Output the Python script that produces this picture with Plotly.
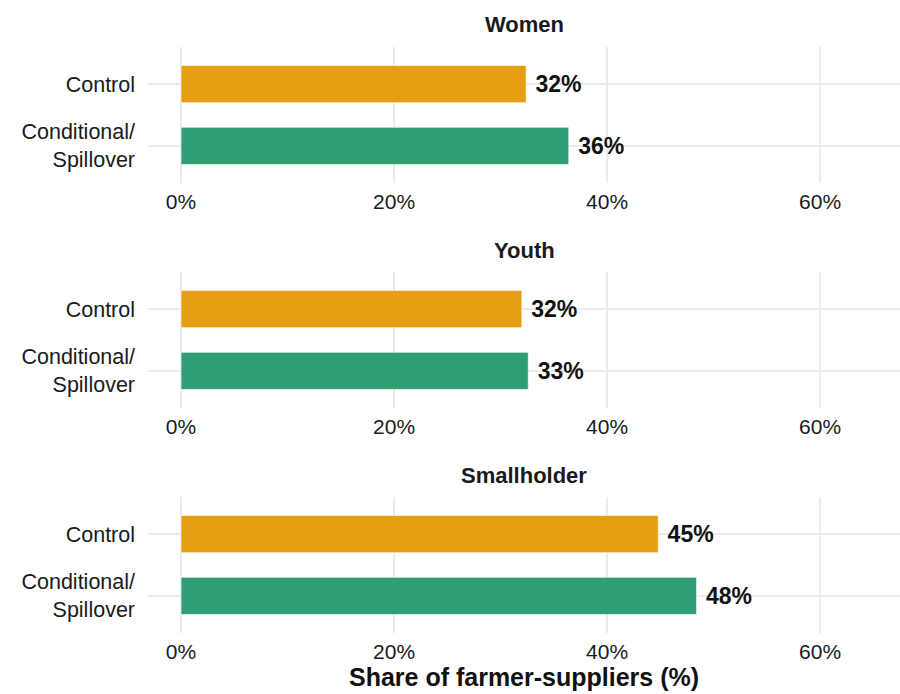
import plotly.graph_objects as go

# Share of farmer-suppliers by group and treatment arm (%)
groups = ["Women", "Youth", "Smallholder"]
arms = ["Control", "Conditional/<br>Spillover"]
control_vals = [32.4, 32.0, 44.8]
conditional_vals = [36.4, 32.6, 48.4]
x_ticks = [0, 20, 40, 60]
x_tick_labels = ["0%", "20%", "40%", "60%"]

arm_colors = ["#E69F13", "#2F9E73"]
font_family = "Liberation Sans, Arial, sans-serif"

W, H = 900, 694
panel_px = [(47, 183), (272, 408), (497, 633)]  # top/bottom of each plot area
x_left_px = 148

fig = go.Figure()
for i, g in enumerate(groups):
    vals = [control_vals[i], conditional_vals[i]]
    sfx = "" if i == 0 else str(i + 1)
    fig.add_trace(go.Bar(
        x=vals,
        y=arms,
        orientation="h",
        marker=dict(color=arm_colors, line=dict(color="rgba(255,255,255,0.6)", width=1)),
        width=0.6,
        text=[f" {round(v)}%" for v in vals],
        textposition="outside",
        textfont=dict(family=font_family, size=23, color="#111111", weight="bold"),
        cliponaxis=False,
        xaxis="x" + sfx,
        yaxis="y" + sfx,
        showlegend=False,
        hoverinfo="skip",
    ))
    top, bot = panel_px[i]
    dom = [1 - bot / H, 1 - top / H]
    xa = dict(
        domain=[x_left_px / W, 1],
        range=[-3.1, 67.5],
        tickvals=x_ticks,
        ticktext=x_tick_labels,
        showgrid=True,
        gridcolor="#EBEBEB",
        gridwidth=1.5,
        zeroline=False,
        showline=False,
        ticks="",
        tickfont=dict(family=font_family, size=21, color="#1a1a1a"),
        anchor="y" + sfx,
        ticklabelstandoff=4,
    )
    ya = dict(
        domain=dom,
        type="category",
        categoryorder="array",
        categoryarray=arms,
        range=[1.6, -0.6],
        showgrid=True,
        gridcolor="#EBEBEB",
        gridwidth=1.5,
        zeroline=False,
        showline=False,
        ticks="",
        tickfont=dict(family=font_family, size=21.5, color="#1a1a1a"),
        anchor="x" + sfx,
        ticklabelstandoff=12,
    )
    if i == len(groups) - 1:
        xa["title"] = dict(text="<b>Share of farmer-suppliers (%)</b>",
                           font=dict(family=font_family, size=25, color="#111111"),
                           standoff=6)
    fig.update_layout({"xaxis" + sfx: xa, "yaxis" + sfx: ya})
    fig.add_annotation(
        text=f"<b>{g}</b>",
        x=(x_left_px / W + 1) / 2, xref="paper",
        y=1 - (top - 22) / H, yref="paper",
        showarrow=False,
        font=dict(family=font_family, size=22, color="#1a1a1a"),
        xanchor="center", yanchor="middle",
    )

fig.update_layout(
    width=W, height=H,
    margin=dict(l=0, r=0, t=0, b=0),
    plot_bgcolor="white",
    paper_bgcolor="white",
    bargap=0.4,
)

fig.write_html("out.html")
